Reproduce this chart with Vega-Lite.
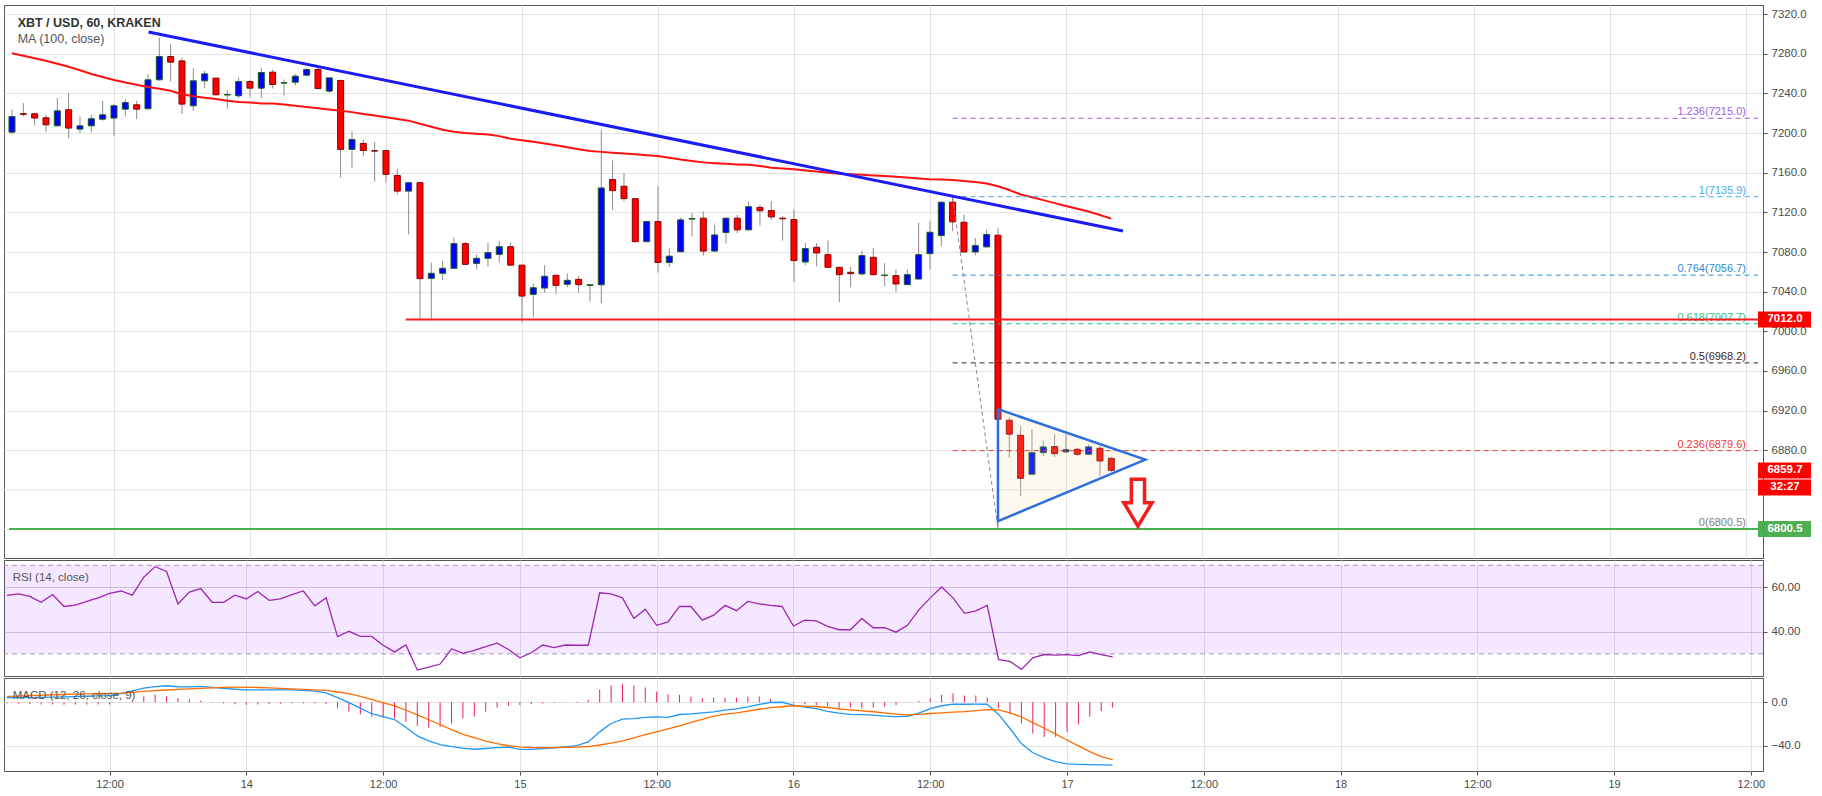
{
"$schema": "https://vega.github.io/schema/vega-lite/v6.json",
"padding": {"left": 3, "top": 4, "right": 0, "bottom": 0},
"background": "white",
"spacing": 0,
"config": {
  "view": {"stroke": "#555555", "strokeWidth": 1},
  "font": "Liberation Sans",
  "axis": {"labelFont": "Liberation Sans", "labelFontSize": 11.5, "labelColor": "#4a4a4a", "gridColor": "#e2e2e2", "gridWidth": 1, "domainColor": "#555555", "tickColor": "#555555", "title": null}
},
"datasets": {
"c": [
{"t":"2019-12-13T03:00:00Z","o":7201.0,"h":7223.6,"l":7199.0,"c":7216.8,"ma":7280.6,"rsi":56.4,"macd":4.3,"sig":5.3,"hist":-1.0},
{"t":"2019-12-13T04:00:00Z","o":7219.6,"h":7230.3,"l":7216.8,"c":7219.0,"ma":7278.0,"rsi":57.1,"macd":4.3,"sig":5.7,"hist":-1.4},
{"t":"2019-12-13T05:00:00Z","o":7219.5,"h":7220.0,"l":7207.8,"c":7215.2,"ma":7275.5,"rsi":56.0,"macd":4.3,"sig":6.0,"hist":-1.7},
{"t":"2019-12-13T06:00:00Z","o":7215.5,"h":7218.5,"l":7201.0,"c":7208.4,"ma":7273.0,"rsi":53.3,"macd":4.4,"sig":6.4,"hist":-2.0},
{"t":"2019-12-13T07:00:00Z","o":7207.4,"h":7235.3,"l":7206.8,"c":7222.5,"ma":7270.0,"rsi":56.8,"macd":4.7,"sig":6.7,"hist":-2.0},
{"t":"2019-12-13T08:00:00Z","o":7223.6,"h":7240.4,"l":7195.0,"c":7205.1,"ma":7267.0,"rsi":51.4,"macd":4.9,"sig":7.1,"hist":-2.2},
{"t":"2019-12-13T09:00:00Z","o":7204.1,"h":7216.8,"l":7200.0,"c":7207.4,"ma":7263.5,"rsi":52.0,"macd":5.2,"sig":7.4,"hist":-2.2},
{"t":"2019-12-13T10:00:00Z","o":7207.4,"h":7218.5,"l":7200.7,"c":7214.5,"ma":7259.7,"rsi":53.7,"macd":5.5,"sig":7.6,"hist":-2.1},
{"t":"2019-12-13T11:00:00Z","o":7214.1,"h":7232.6,"l":7212.5,"c":7218.5,"ma":7256.7,"rsi":55.3,"macd":5.8,"sig":7.8,"hist":-2.0},
{"t":"2019-12-13T12:00:00Z","o":7215.2,"h":7229.3,"l":7196.7,"c":7227.6,"ma":7253.7,"rsi":57.3,"macd":6.1,"sig":8.1,"hist":-2.0},
{"t":"2019-12-13T13:00:00Z","o":7224.2,"h":7234.3,"l":7216.8,"c":7230.9,"ma":7251.0,"rsi":58.4,"macd":7.8,"sig":8.3,"hist":0.3},
{"t":"2019-12-13T14:00:00Z","o":7228.6,"h":7232.6,"l":7214.1,"c":7224.2,"ma":7248.8,"rsi":56.5,"macd":10.4,"sig":9.1,"hist":1.2},
{"t":"2019-12-13T15:00:00Z","o":7224.6,"h":7259.5,"l":7224.0,"c":7253.8,"ma":7246.6,"rsi":64.6,"macd":12.9,"sig":9.9,"hist":5.5},
{"t":"2019-12-13T16:00:00Z","o":7253.8,"h":7296.5,"l":7252.8,"c":7277.3,"ma":7244.7,"rsi":69.4,"macd":14.4,"sig":10.7,"hist":7.0},
{"t":"2019-12-13T17:00:00Z","o":7277.3,"h":7289.7,"l":7252.1,"c":7271.6,"ma":7242.8,"rsi":67.2,"macd":15.1,"sig":11.2,"hist":5.5},
{"t":"2019-12-13T18:00:00Z","o":7272.9,"h":7276.3,"l":7219.2,"c":7229.3,"ma":7239.2,"rsi":52.5,"macd":14.2,"sig":11.7,"hist":3.8},
{"t":"2019-12-13T19:00:00Z","o":7227.6,"h":7265.6,"l":7222.5,"c":7252.8,"ma":7237.2,"rsi":57.9,"macd":14.1,"sig":12.3,"hist":2.4},
{"t":"2019-12-13T20:00:00Z","o":7252.8,"h":7262.9,"l":7245.4,"c":7259.8,"ma":7235.8,"rsi":59.5,"macd":14.5,"sig":12.7,"hist":1.5},
{"t":"2019-12-13T21:00:00Z","o":7255.5,"h":7256.0,"l":7238.0,"c":7238.7,"ma":7234.5,"rsi":53.3,"macd":13.6,"sig":13.2,"hist":0.4},
{"t":"2019-12-13T22:00:00Z","o":7238.5,"h":7243.7,"l":7224.6,"c":7239.0,"ma":7232.6,"rsi":53.3,"macd":12.7,"sig":13.7,"hist":-1.0},
{"t":"2019-12-13T23:00:00Z","o":7237.7,"h":7256.1,"l":7235.3,"c":7252.1,"ma":7231.4,"rsi":56.5,"macd":11.9,"sig":13.8,"hist":-1.9},
{"t":"2019-12-14T00:00:00Z","o":7252.1,"h":7253.8,"l":7236.0,"c":7245.4,"ma":7230.9,"rsi":54.8,"macd":11.4,"sig":13.7,"hist":-2.3},
{"t":"2019-12-14T01:00:00Z","o":7245.4,"h":7265.6,"l":7235.3,"c":7261.2,"ma":7230.0,"rsi":58.2,"macd":11.4,"sig":13.5,"hist":-2.1},
{"t":"2019-12-14T02:00:00Z","o":7261.5,"h":7264.2,"l":7245.0,"c":7249.1,"ma":7229.8,"rsi":54.2,"macd":11.4,"sig":13.1,"hist":-1.7},
{"t":"2019-12-14T03:00:00Z","o":7250.5,"h":7254.1,"l":7238.0,"c":7251.0,"ma":7229.0,"rsi":54.8,"macd":11.4,"sig":12.7,"hist":-1.3},
{"t":"2019-12-14T04:00:00Z","o":7251.4,"h":7259.8,"l":7248.4,"c":7257.5,"ma":7227.7,"rsi":56.8,"macd":11.3,"sig":12.2,"hist":-0.9},
{"t":"2019-12-14T05:00:00Z","o":7258.5,"h":7265.9,"l":7257.5,"c":7264.2,"ma":7226.4,"rsi":58.4,"macd":10.8,"sig":11.8,"hist":-1.0},
{"t":"2019-12-14T06:00:00Z","o":7264.2,"h":7265.9,"l":7244.0,"c":7245.0,"ma":7225.1,"rsi":51.7,"macd":10.2,"sig":11.3,"hist":-1.1},
{"t":"2019-12-14T07:00:00Z","o":7242.4,"h":7256.5,"l":7240.7,"c":7255.8,"ma":7223.9,"rsi":55.3,"macd":8.5,"sig":10.8,"hist":-1.8},
{"t":"2019-12-14T08:00:00Z","o":7253.1,"h":7254.1,"l":7155.0,"c":7183.6,"ma":7222.7,"rsi":37.8,"macd":4.3,"sig":9.4,"hist":-5.5},
{"t":"2019-12-14T09:00:00Z","o":7183.6,"h":7202.0,"l":7165.1,"c":7193.6,"ma":7221.2,"rsi":40.2,"macd":-0.3,"sig":7.9,"hist":-8.6},
{"t":"2019-12-14T10:00:00Z","o":7189.6,"h":7193.6,"l":7176.8,"c":7182.5,"ma":7219.4,"rsi":37.9,"macd":-5.3,"sig":5.3,"hist":-11.0},
{"t":"2019-12-14T11:00:00Z","o":7182.3,"h":7191.0,"l":7151.0,"c":7181.9,"ma":7217.7,"rsi":37.9,"macd":-10.5,"sig":2.5,"hist":-13.2},
{"t":"2019-12-14T12:00:00Z","o":7182.5,"h":7183.6,"l":7150.0,"c":7158.4,"ma":7216.0,"rsi":33.9,"macd":-13.2,"sig":-0.3,"hist":-14.2},
{"t":"2019-12-14T13:00:00Z","o":7157.3,"h":7164.0,"l":7138.2,"c":7141.5,"ma":7214.3,"rsi":30.9,"macd":-15.8,"sig":-3.4,"hist":-14.8},
{"t":"2019-12-14T14:00:00Z","o":7141.5,"h":7150.5,"l":7097.9,"c":7150.0,"ma":7212.6,"rsi":34.0,"macd":-22.9,"sig":-7.3,"hist":-17.8},
{"t":"2019-12-14T15:00:00Z","o":7150.0,"h":7150.5,"l":7011.2,"c":7053.2,"ma":7209.4,"rsi":22.7,"macd":-30.8,"sig":-11.5,"hist":-21.5},
{"t":"2019-12-14T16:00:00Z","o":7053.5,"h":7069.3,"l":7011.2,"c":7058.6,"ma":7206.4,"rsi":24.0,"macd":-35.4,"sig":-16.0,"hist":-23.4},
{"t":"2019-12-14T17:00:00Z","o":7058.6,"h":7071.0,"l":7051.5,"c":7063.6,"ma":7203.5,"rsi":25.4,"macd":-38.7,"sig":-20.6,"hist":-22.5},
{"t":"2019-12-14T18:00:00Z","o":7063.6,"h":7094.5,"l":7063.0,"c":7088.5,"ma":7201.5,"rsi":32.3,"macd":-40.5,"sig":-25.1,"hist":-19.4},
{"t":"2019-12-14T19:00:00Z","o":7088.5,"h":7090.1,"l":7067.0,"c":7067.6,"ma":7200.1,"rsi":30.2,"macd":-42.0,"sig":-29.3,"hist":-14.8},
{"t":"2019-12-14T20:00:00Z","o":7068.6,"h":7077.7,"l":7062.6,"c":7073.7,"ma":7199.4,"rsi":31.6,"macd":-43.0,"sig":-32.4,"hist":-13.2},
{"t":"2019-12-14T21:00:00Z","o":7073.7,"h":7089.5,"l":7065.0,"c":7079.4,"ma":7198.6,"rsi":33.3,"macd":-42.3,"sig":-35.5,"hist":-8.6},
{"t":"2019-12-14T22:00:00Z","o":7077.7,"h":7091.2,"l":7069.3,"c":7085.4,"ma":7197.0,"rsi":34.8,"macd":-41.5,"sig":-37.8,"hist":-4.9},
{"t":"2019-12-14T23:00:00Z","o":7085.4,"h":7089.8,"l":7066.1,"c":7066.8,"ma":7194.3,"rsi":32.0,"macd":-41.0,"sig":-39.8,"hist":-3.1},
{"t":"2019-12-15T00:00:00Z","o":7066.8,"h":7067.0,"l":7009.1,"c":7035.6,"ma":7192.9,"rsi":28.2,"macd":-43.1,"sig":-40.8,"hist":-2.5},
{"t":"2019-12-15T01:00:00Z","o":7037.3,"h":7048.1,"l":7014.2,"c":7044.0,"ma":7191.4,"rsi":30.5,"macd":-43.1,"sig":-41.4,"hist":-1.8},
{"t":"2019-12-15T02:00:00Z","o":7043.7,"h":7066.8,"l":7039.0,"c":7055.6,"ma":7189.6,"rsi":34.0,"macd":-42.5,"sig":-41.5,"hist":-1.2},
{"t":"2019-12-15T03:00:00Z","o":7056.6,"h":7056.8,"l":7038.0,"c":7046.4,"ma":7187.7,"rsi":32.8,"macd":-41.8,"sig":-41.5,"hist":-0.6},
{"t":"2019-12-15T04:00:00Z","o":7047.5,"h":7058.3,"l":7044.7,"c":7051.5,"ma":7185.7,"rsi":34.0,"macd":-40.8,"sig":-41.3,"hist":0.2},
{"t":"2019-12-15T05:00:00Z","o":7052.5,"h":7055.9,"l":7039.0,"c":7047.1,"ma":7183.8,"rsi":33.9,"macd":-39.6,"sig":-41.0,"hist":0.6},
{"t":"2019-12-15T06:00:00Z","o":7046.4,"h":7047.5,"l":7030.2,"c":7047.0,"ma":7182.0,"rsi":33.9,"macd":-36.3,"sig":-40.5,"hist":2.2},
{"t":"2019-12-15T07:00:00Z","o":7047.0,"h":7203.0,"l":7028.5,"c":7144.7,"ma":7181.1,"rsi":57.6,"macd":-27.1,"sig":-39.1,"hist":11.4},
{"t":"2019-12-15T08:00:00Z","o":7153.2,"h":7172.5,"l":7122.7,"c":7142.0,"ma":7180.3,"rsi":57.1,"macd":-19.4,"sig":-37.4,"hist":15.4},
{"t":"2019-12-15T09:00:00Z","o":7146.4,"h":7160.0,"l":7131.2,"c":7133.9,"ma":7179.4,"rsi":55.3,"macd":-15.4,"sig":-35.4,"hist":16.6},
{"t":"2019-12-15T10:00:00Z","o":7133.9,"h":7134.5,"l":7090.0,"c":7090.5,"ma":7178.6,"rsi":46.0,"macd":-14.9,"sig":-32.7,"hist":15.4},
{"t":"2019-12-15T11:00:00Z","o":7090.5,"h":7111.3,"l":7089.8,"c":7110.8,"ma":7177.8,"rsi":50.2,"macd":-13.8,"sig":-29.6,"hist":13.5},
{"t":"2019-12-15T12:00:00Z","o":7110.8,"h":7146.4,"l":7059.3,"c":7069.5,"ma":7177.0,"rsi":42.9,"macd":-13.4,"sig":-27.0,"hist":9.8},
{"t":"2019-12-15T13:00:00Z","o":7069.5,"h":7083.7,"l":7065.0,"c":7075.9,"ma":7175.2,"rsi":44.4,"macd":-13.8,"sig":-24.4,"hist":7.4},
{"t":"2019-12-15T14:00:00Z","o":7080.3,"h":7114.9,"l":7079.8,"c":7112.5,"ma":7173.4,"rsi":51.4,"macd":-11.2,"sig":-21.7,"hist":6.8},
{"t":"2019-12-15T15:00:00Z","o":7113.3,"h":7119.3,"l":7095.6,"c":7113.8,"ma":7172.0,"rsi":51.4,"macd":-10.6,"sig":-18.5,"hist":5.2},
{"t":"2019-12-15T16:00:00Z","o":7114.2,"h":7121.0,"l":7076.3,"c":7081.0,"ma":7170.5,"rsi":45.2,"macd":-9.8,"sig":-15.6,"hist":3.7},
{"t":"2019-12-15T17:00:00Z","o":7081.0,"h":7107.5,"l":7080.5,"c":7097.3,"ma":7169.7,"rsi":47.5,"macd":-8.8,"sig":-12.6,"hist":4.3},
{"t":"2019-12-15T18:00:00Z","o":7099.7,"h":7114.7,"l":7088.8,"c":7114.2,"ma":7169.0,"rsi":51.9,"macd":-7.1,"sig":-10.9,"hist":4.3},
{"t":"2019-12-15T19:00:00Z","o":7114.2,"h":7117.6,"l":7099.0,"c":7102.4,"ma":7168.4,"rsi":49.5,"macd":-6.0,"sig":-9.7,"hist":4.3},
{"t":"2019-12-15T20:00:00Z","o":7102.4,"h":7131.2,"l":7101.9,"c":7125.8,"ma":7168.0,"rsi":53.7,"macd":-4.2,"sig":-8.1,"hist":5.2},
{"t":"2019-12-15T21:00:00Z","o":7125.1,"h":7127.8,"l":7106.8,"c":7121.7,"ma":7166.9,"rsi":52.6,"macd":-2.0,"sig":-6.4,"hist":5.2},
{"t":"2019-12-15T22:00:00Z","o":7121.9,"h":7131.4,"l":7112.8,"c":7115.5,"ma":7165.0,"rsi":51.9,"macd":-0.2,"sig":-5.0,"hist":3.1},
{"t":"2019-12-15T23:00:00Z","o":7114.2,"h":7116.2,"l":7091.6,"c":7113.5,"ma":7164.3,"rsi":51.4,"macd":0.0,"sig":-4.1,"hist":0.6},
{"t":"2019-12-16T00:00:00Z","o":7112.8,"h":7122.9,"l":7049.8,"c":7071.4,"ma":7163.5,"rsi":42.6,"macd":-2.7,"sig":-3.2,"hist":-1.0},
{"t":"2019-12-16T01:00:00Z","o":7070.0,"h":7089.2,"l":7066.6,"c":7083.5,"ma":7162.3,"rsi":45.2,"macd":-4.5,"sig":-3.5,"hist":-1.9},
{"t":"2019-12-16T02:00:00Z","o":7084.8,"h":7089.2,"l":7065.6,"c":7079.1,"ma":7161.2,"rsi":44.9,"macd":-5.8,"sig":-3.9,"hist":-2.8},
{"t":"2019-12-16T03:00:00Z","o":7077.4,"h":7091.6,"l":7064.0,"c":7064.6,"ma":7160.1,"rsi":42.4,"macd":-8.4,"sig":-4.8,"hist":-3.7},
{"t":"2019-12-16T04:00:00Z","o":7064.6,"h":7065.0,"l":7029.6,"c":7057.2,"ma":7159.0,"rsi":40.9,"macd":-9.9,"sig":-6.0,"hist":-6.8},
{"t":"2019-12-16T05:00:00Z","o":7059.6,"h":7065.6,"l":7044.4,"c":7058.2,"ma":7158.5,"rsi":40.9,"macd":-11.1,"sig":-6.9,"hist":-4.9},
{"t":"2019-12-16T06:00:00Z","o":7057.9,"h":7081.5,"l":7056.5,"c":7076.4,"ma":7157.9,"rsi":46.0,"macd":-11.4,"sig":-7.8,"hist":-5.5},
{"t":"2019-12-16T07:00:00Z","o":7074.7,"h":7084.2,"l":7056.5,"c":7057.2,"ma":7157.3,"rsi":41.8,"macd":-11.8,"sig":-8.7,"hist":-4.9},
{"t":"2019-12-16T08:00:00Z","o":7056.3,"h":7069.0,"l":7045.4,"c":7056.8,"ma":7156.8,"rsi":41.8,"macd":-12.7,"sig":-9.8,"hist":-4.0},
{"t":"2019-12-16T09:00:00Z","o":7056.2,"h":7062.3,"l":7039.7,"c":7047.8,"ma":7156.0,"rsi":39.8,"macd":-13.1,"sig":-10.8,"hist":-2.5},
{"t":"2019-12-16T10:00:00Z","o":7047.1,"h":7062.3,"l":7046.8,"c":7057.2,"ma":7155.2,"rsi":42.9,"macd":-12.8,"sig":-11.6,"hist":-0.3},
{"t":"2019-12-16T11:00:00Z","o":7052.8,"h":7109.5,"l":7052.3,"c":7077.4,"ma":7154.3,"rsi":49.9,"macd":-10.0,"sig":-11.0,"hist":1.2},
{"t":"2019-12-16T12:00:00Z","o":7078.4,"h":7111.1,"l":7062.3,"c":7100.0,"ma":7153.5,"rsi":55.3,"macd":-5.8,"sig":-10.3,"hist":3.7},
{"t":"2019-12-16T13:00:00Z","o":7096.6,"h":7131.4,"l":7085.9,"c":7130.3,"ma":7153.1,"rsi":60.2,"macd":-3.2,"sig":-9.7,"hist":6.8},
{"t":"2019-12-16T14:00:00Z","o":7130.3,"h":7135.9,"l":7101.0,"c":7110.5,"ma":7152.7,"rsi":55.3,"macd":-1.8,"sig":-9.0,"hist":8.3},
{"t":"2019-12-16T15:00:00Z","o":7110.1,"h":7117.9,"l":7079.6,"c":7080.1,"ma":7151.7,"rsi":48.3,"macd":-1.8,"sig":-8.6,"hist":6.2},
{"t":"2019-12-16T16:00:00Z","o":7080.1,"h":7094.3,"l":7076.8,"c":7086.5,"ma":7150.8,"rsi":49.4,"macd":-1.7,"sig":-7.7,"hist":6.2},
{"t":"2019-12-16T17:00:00Z","o":7085.2,"h":7102.7,"l":7084.8,"c":7097.7,"ma":7149.2,"rsi":51.9,"macd":-1.8,"sig":-6.8,"hist":4.3},
{"t":"2019-12-16T18:00:00Z","o":7097.0,"h":7104.1,"l":6800.5,"c":6911.3,"ma":7146.4,"rsi":27.4,"macd":-11.1,"sig":-7.0,"hist":-5.5},
{"t":"2019-12-16T19:00:00Z","o":6910.3,"h":6913.0,"l":6872.6,"c":6896.2,"ma":7142.6,"rsi":26.6,"macd":-24.0,"sig":-9.7,"hist":-11.0},
{"t":"2019-12-16T20:00:00Z","o":6895.1,"h":6904.6,"l":6833.9,"c":6851.7,"ma":7138.1,"rsi":23.0,"macd":-37.8,"sig":-13.5,"hist":-19.4},
{"t":"2019-12-16T21:00:00Z","o":6855.8,"h":6901.2,"l":6855.3,"c":6877.6,"ma":7135.3,"rsi":28.2,"macd":-46.2,"sig":-18.6,"hist":-28.6},
{"t":"2019-12-16T22:00:00Z","o":6877.6,"h":6889.4,"l":6874.3,"c":6883.4,"ma":7132.4,"rsi":29.7,"macd":-50.8,"sig":-23.8,"hist":-31.7},
{"t":"2019-12-16T23:00:00Z","o":6883.7,"h":6896.2,"l":6873.3,"c":6876.6,"ma":7129.4,"rsi":29.4,"macd":-54.3,"sig":-29.1,"hist":-31.7},
{"t":"2019-12-17T00:00:00Z","o":6878.3,"h":6896.2,"l":6877.6,"c":6880.7,"ma":7126.5,"rsi":29.7,"macd":-56.3,"sig":-34.5,"hist":-27.0},
{"t":"2019-12-17T01:00:00Z","o":6881.0,"h":6882.7,"l":6874.3,"c":6876.0,"ma":7123.7,"rsi":29.2,"macd":-56.8,"sig":-39.9,"hist":-20.3},
{"t":"2019-12-17T02:00:00Z","o":6876.0,"h":6886.0,"l":6875.6,"c":6883.4,"ma":7120.9,"rsi":30.9,"macd":-57.1,"sig":-45.2,"hist":-13.2},
{"t":"2019-12-17T03:00:00Z","o":6882.0,"h":6884.4,"l":6854.1,"c":6869.2,"ma":7117.4,"rsi":29.7,"macd":-57.3,"sig":-49.7,"hist":-8.0},
{"t":"2019-12-17T04:00:00Z","o":6871.9,"h":6873.3,"l":6858.0,"c":6859.7,"ma":7113.7,"rsi":28.6,"macd":-57.5,"sig":-52.6,"hist":-4.9}
]
},
"vconcat": [
{
  "width": 1759,
  "height": 553,
  "layer": [
    {
      "data": {"name": "c"},
      "mark": {"type": "rule", "color": "#8c8c8c", "strokeWidth": 1},
      "encoding": {
        "x": {"field": "t", "type": "temporal",
              "scale": {"type": "utc", "domain": [{"year":2019,"month":12,"date":13,"hours":2,"minutes":44,"seconds":13,"utc":true},{"year":2019,"month":12,"date":19,"hours":13,"minutes":3,"seconds":48,"utc":true}]},
              "axis": {"labels": false, "ticks": false, "domain": false, "grid": true,
                       "values": [{"year":2019,"month":12,"date":13,"hours":12,"utc":true},{"year":2019,"month":12,"date":14,"hours":0,"utc":true},{"year":2019,"month":12,"date":14,"hours":12,"utc":true},{"year":2019,"month":12,"date":15,"hours":0,"utc":true},{"year":2019,"month":12,"date":15,"hours":12,"utc":true},{"year":2019,"month":12,"date":16,"hours":0,"utc":true},{"year":2019,"month":12,"date":16,"hours":12,"utc":true},{"year":2019,"month":12,"date":17,"hours":0,"utc":true},{"year":2019,"month":12,"date":17,"hours":12,"utc":true},{"year":2019,"month":12,"date":18,"hours":0,"utc":true},{"year":2019,"month":12,"date":18,"hours":12,"utc":true},{"year":2019,"month":12,"date":19,"hours":0,"utc":true},{"year":2019,"month":12,"date":19,"hours":12,"utc":true}]}},
        "y": {"field": "l", "type": "quantitative",
              "scale": {"domain": [6771.3, 7329.3], "zero": false, "nice": false},
              "axis": {"orient": "right", "values": [6880,6920,6960,7000,7040,7080,7120,7160,7200,7240,7280,7320], "format": ".1f", "grid": true, "tickSize": 4, "labelPadding": 4, "minExtent": 60, "maxExtent": 60, "domain": true}},
        "y2": {"field": "h"}
      }
    },
    {
      "data": {"values": [{"p": 6840}, {"p": 6800}]},
      "mark": {"type": "rule", "color": "#e2e2e2", "strokeWidth": 1},
      "encoding": {
        "y": {"field": "p", "type": "quantitative"}
      }
    },
    {
      "data": {"name": "c"},
      "mark": {"type": "bar", "width": 6, "strokeWidth": 1},
      "encoding": {
        "x": {"field": "t", "type": "temporal"},
        "y": {"field": "o", "type": "quantitative"},
        "y2": {"field": "c"},
        "fill": {"condition": {"test": "datum.c >= datum.o", "value": "#0000ff"}, "value": "#ff0000"},
        "stroke": {"condition": {"test": "datum.c >= datum.o", "value": "#1b5e20"}, "value": "#8b0000"}
      }
    },
    {
      "data": {"name": "c"},
      "mark": {"type": "line", "color": "#ff1010", "strokeWidth": 2},
      "encoding": {
        "x": {"field": "t", "type": "temporal"},
        "y": {"field": "ma", "type": "quantitative"}
      }
    },
    {
      "data": {"values": [{"t":"2019-12-16T18:00:00Z","top":6921.5,"bot":6808.5},{"t":"2019-12-17T07:00:00Z","top":6870.5,"bot":6870.5}]},
      "mark": {"type": "area", "color": "#f2dc9a", "opacity": 0.16},
      "encoding": {
        "x": {"field": "t", "type": "temporal"},
        "y": {"field": "top", "type": "quantitative"},
        "y2": {"field": "bot"}
      }
    },
    {
      "data": {"values": [
        {"lv":"1.236","p":7215.0,"label":"1.236(7215.0)"},
        {"lv":"1","p":7135.9,"label":"1(7135.9)"},
        {"lv":"0.764","p":7056.7,"label":"0.764(7056.7)"},
        {"lv":"0.618","p":7007.7,"label":"0.618(7007.7)"},
        {"lv":"0.5","p":6968.2,"label":"0.5(6968.2)"},
        {"lv":"0.236","p":6879.6,"label":"0.236(6879.6)"},
        {"lv":"0","p":6800.5,"label":"0(6800.5)"}
      ]},
      "layer": [
        {
          "mark": {"type": "rule", "strokeWidth": 1, "strokeDash": [5, 4]},
          "encoding": {
            "x": {"datum": {"year":2019,"month":12,"date":16,"hours":14,"utc":true}, "type": "temporal"},
            "x2": {"datum": {"year":2019,"month":12,"date":19,"hours":13,"minutes":3,"seconds":48,"utc":true}},
            "y": {"field": "p", "type": "quantitative"},
            "color": {"field": "lv", "type": "nominal", "legend": null,
                      "scale": {"domain": ["1.236","1","0.764","0.618","0.5","0.236","0"], "range": ["#a35ddc","#45aee6","#2f8bd6","#1fbf8a","#3d2323","#e53935","#808080"]}}
          }
        },
        {
          "mark": {"type": "text", "align": "right", "baseline": "bottom", "dy": -1, "fontSize": 11, "font": "Liberation Sans"},
          "encoding": {
            "x": {"datum": {"year":2019,"month":12,"date":19,"hours":12,"utc":true}, "type": "temporal"},
            "y": {"field": "p", "type": "quantitative"},
            "text": {"field": "label"},
            "color": {"field": "lv", "type": "nominal", "legend": null}
          }
        }
      ]
    },
    {
      "data": {"values": [{"t":"2019-12-16T14:00:00Z","p":7135.9},{"t":"2019-12-16T18:00:00Z","p":6800.5}]},
      "mark": {"type": "line", "color": "#8a8a8a", "strokeWidth": 1, "strokeDash": [4, 3]},
      "encoding": {
        "x": {"field": "t", "type": "temporal"},
        "y": {"field": "p", "type": "quantitative"}
      }
    },
    {
      "data": {"values": [{"t0":"2019-12-14T13:45:00Z","t1":"2019-12-19T13:03:48Z","p":7012.0}]},
      "mark": {"type": "rule", "color": "#ff1a1a", "strokeWidth": 2},
      "encoding": {
        "x": {"field": "t0", "type": "temporal"},
        "x2": {"field": "t1"},
        "y": {"field": "p", "type": "quantitative"}
      }
    },
    {
      "data": {"values": [{"t0":"2019-12-13T02:44:13Z","t1":"2019-12-19T13:03:48Z","p":6800.5}]},
      "mark": {"type": "rule", "color": "#4caf50", "strokeWidth": 2},
      "encoding": {
        "x": {"field": "t0", "type": "temporal"},
        "x2": {"field": "t1"},
        "y": {"field": "p", "type": "quantitative"}
      }
    },
    {
      "data": {"values": [{"t":"2019-12-13T15:03:00Z","p":7302.1},{"t":"2019-12-17T05:02:00Z","p":7101.3}]},
      "mark": {"type": "line", "color": "#1c1cf2", "strokeWidth": 3},
      "encoding": {
        "x": {"field": "t", "type": "temporal"},
        "y": {"field": "p", "type": "quantitative"}
      }
    },
    {
      "data": {"values": [{"k":1,"t":"2019-12-16T18:00:00Z","p":6921.5},{"k":2,"t":"2019-12-17T07:00:00Z","p":6870.5},{"k":3,"t":"2019-12-16T18:00:00Z","p":6808.5},{"k":4,"t":"2019-12-16T18:00:00Z","p":6921.5}]},
      "mark": {"type": "line", "color": "#2d6fdc", "strokeWidth": 2.5, "strokeJoin": "miter"},
      "encoding": {
        "x": {"field": "t", "type": "temporal"},
        "y": {"field": "p", "type": "quantitative"},
        "order": {"field": "k", "type": "quantitative"}
      }
    },
    {
      "data": {"values": [{"t":"2019-12-17T06:21:00Z","p":6827.1}]},
      "mark": {"type": "point", "shape": "M-0.28,-1L0.28,-1L0.28,0L0.6,0L0,1L-0.6,0L-0.28,0Z", "size": 2209, "filled": false, "fill": "white", "fillOpacity": 1, "stroke": "#f41c1c", "strokeWidth": 3.5, "opacity": 1, "strokeJoin": "miter"},
      "encoding": {
        "x": {"field": "t", "type": "temporal"},
        "y": {"field": "p", "type": "quantitative"}
      }
    },
    {
      "data": {"values": [{"t":"2019-12-13T03:30:00Z","p":7311.5,"txt":"XBT / USD, 60, KRAKEN"}]},
      "mark": {"type": "text", "align": "left", "baseline": "middle", "fontSize": 12.5, "fontWeight": "bold", "color": "#333333", "font": "Liberation Sans"},
      "encoding": {
        "x": {"field": "t", "type": "temporal"},
        "y": {"field": "p", "type": "quantitative"},
        "text": {"field": "txt"}
      }
    },
    {
      "data": {"values": [{"t":"2019-12-13T03:30:00Z","p":7294.7,"txt":"MA (100, close)"}]},
      "mark": {"type": "text", "align": "left", "baseline": "middle", "fontSize": 12.5, "color": "#555555", "font": "Liberation Sans"},
      "encoding": {
        "x": {"field": "t", "type": "temporal"},
        "y": {"field": "p", "type": "quantitative"},
        "text": {"field": "txt"}
      }
    },
    {
      "data": {"values": [{"name":"7012.0","p":7012.0,"kind":"res","t":"2019-12-19T13:03:48Z"},{"name":"6859.7","p":6859.7,"kind":"last","t":"2019-12-19T13:03:48Z"},{"name":"6800.5","p":6800.5,"kind":"sup","t":"2019-12-19T13:03:48Z"}]},
      "layer": [
        {
          "mark": {"type": "rect", "yOffset": -8, "y2Offset": 8, "x2Offset": 53},
          "encoding": {
            "x": {"field": "t", "type": "temporal"},
            "x2": {"field": "t"},
            "y": {"field": "p", "type": "quantitative"},
            "y2": {"field": "p"},
            "fill": {"field": "kind", "type": "nominal", "legend": null, "scale": {"domain": ["res","last","sup"], "range": ["#ff0000","#ff0000","#4caf50"]}}
          }
        },
        {
          "mark": {"type": "text", "align": "center", "baseline": "middle", "dx": 27, "fontSize": 11.5, "fontWeight": "bold", "color": "white", "font": "Liberation Sans"},
          "encoding": {
            "x": {"field": "t", "type": "temporal"},
            "y": {"field": "p", "type": "quantitative"},
            "text": {"field": "name"}
          }
        }
      ]
    },
    {
      "data": {"values": [{"name":"32:27","p":6859.7,"t":"2019-12-19T13:03:48Z"}]},
      "layer": [
        {
          "mark": {"type": "rect", "color": "#ff0000", "yOffset": 9, "y2Offset": 25, "x2Offset": 53},
          "encoding": {
            "x": {"field": "t", "type": "temporal"},
            "x2": {"field": "t"},
            "y": {"field": "p", "type": "quantitative"},
            "y2": {"field": "p"}
          }
        },
        {
          "mark": {"type": "text", "align": "center", "baseline": "middle", "dx": 27, "dy": 17, "fontSize": 11.5, "fontWeight": "bold", "color": "white", "font": "Liberation Sans"},
          "encoding": {
            "x": {"field": "t", "type": "temporal"},
            "y": {"field": "p", "type": "quantitative"},
            "text": {"field": "name"}
          }
        }
      ]
    }
  ]
},
{
  "width": 1759,
  "height": 116,
  "layer": [
    {
      "data": {"values": [{"t0":"2019-12-13T02:44:13Z","t1":"2019-12-19T13:03:48Z","hi":70,"lo":30}]},
      "mark": {"type": "rect", "color": "#9915ff", "opacity": 0.1},
      "encoding": {
        "x": {"field": "t0", "type": "temporal",
              "scale": {"type": "utc", "domain": [{"year":2019,"month":12,"date":13,"hours":2,"minutes":44,"seconds":13,"utc":true},{"year":2019,"month":12,"date":19,"hours":13,"minutes":3,"seconds":48,"utc":true}]},
              "axis": {"labels": false, "ticks": false, "domain": false, "grid": true,
                       "values": [{"year":2019,"month":12,"date":13,"hours":12,"utc":true},{"year":2019,"month":12,"date":14,"hours":0,"utc":true},{"year":2019,"month":12,"date":14,"hours":12,"utc":true},{"year":2019,"month":12,"date":15,"hours":0,"utc":true},{"year":2019,"month":12,"date":15,"hours":12,"utc":true},{"year":2019,"month":12,"date":16,"hours":0,"utc":true},{"year":2019,"month":12,"date":16,"hours":12,"utc":true},{"year":2019,"month":12,"date":17,"hours":0,"utc":true},{"year":2019,"month":12,"date":17,"hours":12,"utc":true},{"year":2019,"month":12,"date":18,"hours":0,"utc":true},{"year":2019,"month":12,"date":18,"hours":12,"utc":true},{"year":2019,"month":12,"date":19,"hours":0,"utc":true},{"year":2019,"month":12,"date":19,"hours":12,"utc":true}]}},
        "x2": {"field": "t1"},
        "y": {"field": "hi", "type": "quantitative",
              "scale": {"domain": [20.0, 72.4], "zero": false, "nice": false},
              "axis": {"orient": "right", "values": [40, 60], "format": ".2f", "grid": true, "gridColor": "#d4cfe0", "tickSize": 4, "labelPadding": 4, "minExtent": 60, "maxExtent": 60, "domain": true}},
        "y2": {"field": "lo"}
      }
    },
    {
      "data": {"values": [{"lvl": 70}, {"lvl": 30}]},
      "mark": {"type": "rule", "color": "#a796bd", "strokeWidth": 1, "strokeDash": [5, 4]},
      "encoding": {
        "y": {"field": "lvl", "type": "quantitative"}
      }
    },
    {
      "data": {"name": "c"},
      "mark": {"type": "line", "color": "#9c27b0", "strokeWidth": 1.3},
      "encoding": {
        "x": {"field": "t", "type": "temporal"},
        "y": {"field": "rsi", "type": "quantitative"}
      }
    },
    {
      "data": {"values": [{"t":"2019-12-13T03:30:00Z","v":64.3,"txt":"RSI (14, close)"}]},
      "mark": {"type": "text", "align": "left", "baseline": "middle", "fontSize": 11.5, "color": "#555555", "font": "Liberation Sans"},
      "encoding": {
        "x": {"field": "t", "type": "temporal"},
        "y": {"field": "v", "type": "quantitative"},
        "text": {"field": "txt"}
      }
    }
  ]
},
{
  "width": 1759,
  "height": 93,
  "layer": [
    {
      "data": {"name": "c"},
      "mark": {"type": "rule", "color": "#e91e63", "strokeWidth": 1},
      "encoding": {
        "x": {"field": "t", "type": "temporal",
              "scale": {"type": "utc", "domain": [{"year":2019,"month":12,"date":13,"hours":2,"minutes":44,"seconds":13,"utc":true},{"year":2019,"month":12,"date":19,"hours":13,"minutes":3,"seconds":48,"utc":true}]},
              "axis": {"labels": true, "ticks": true, "tickSize": 4, "domain": false, "grid": true, "labelPadding": 3, "labelFontSize": 11,
                       "labelExpr": "utchours(datum.value) == 12 ? '12:00' : '' + utcdate(datum.value)",
                       "values": [{"year":2019,"month":12,"date":13,"hours":12,"utc":true},{"year":2019,"month":12,"date":14,"hours":0,"utc":true},{"year":2019,"month":12,"date":14,"hours":12,"utc":true},{"year":2019,"month":12,"date":15,"hours":0,"utc":true},{"year":2019,"month":12,"date":15,"hours":12,"utc":true},{"year":2019,"month":12,"date":16,"hours":0,"utc":true},{"year":2019,"month":12,"date":16,"hours":12,"utc":true},{"year":2019,"month":12,"date":17,"hours":0,"utc":true},{"year":2019,"month":12,"date":17,"hours":12,"utc":true},{"year":2019,"month":12,"date":18,"hours":0,"utc":true},{"year":2019,"month":12,"date":18,"hours":12,"utc":true},{"year":2019,"month":12,"date":19,"hours":0,"utc":true},{"year":2019,"month":12,"date":19,"hours":12,"utc":true}]}},
        "y": {"field": "hist", "type": "quantitative",
              "scale": {"domain": [-62.9, 22.2], "zero": false, "nice": false},
              "axis": {"orient": "right", "values": [0, -40], "format": ".1f", "grid": true, "tickSize": 4, "labelPadding": 4, "minExtent": 60, "maxExtent": 60, "domain": true}},
        "y2": {"datum": 0}
      }
    },
    {
      "data": {"name": "c"},
      "mark": {"type": "line", "color": "#2196f3", "strokeWidth": 1.3},
      "encoding": {
        "x": {"field": "t", "type": "temporal"},
        "y": {"field": "macd", "type": "quantitative"}
      }
    },
    {
      "data": {"name": "c"},
      "mark": {"type": "line", "color": "#ff6d00", "strokeWidth": 1.3},
      "encoding": {
        "x": {"field": "t", "type": "temporal"},
        "y": {"field": "sig", "type": "quantitative"}
      }
    },
    {
      "data": {"values": [{"t":"2019-12-13T03:30:00Z","v":6.0,"txt":"MACD (12, 26, close, 9)"}]},
      "mark": {"type": "text", "align": "left", "baseline": "middle", "fontSize": 11.5, "color": "#555555", "font": "Liberation Sans"},
      "encoding": {
        "x": {"field": "t", "type": "temporal"},
        "y": {"field": "v", "type": "quantitative"},
        "text": {"field": "txt"}
      }
    }
  ]
}
]
}
